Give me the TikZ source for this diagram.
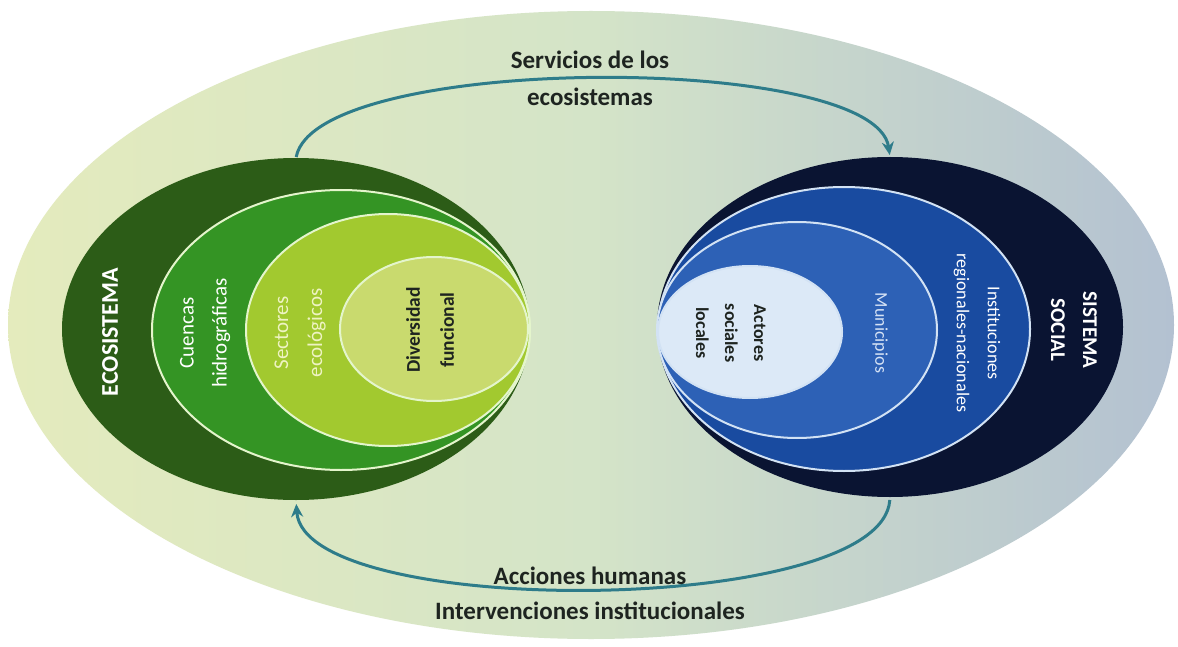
\documentclass[tikz,border=0pt]{standalone}
\usepackage{fontspec}
\setmainfont{Carlito}
\usetikzlibrary{shapes.geometric,arrows.meta}
\definecolor{bgL}{HTML}{E4EBBD}
\definecolor{bgM}{HTML}{D4E4C8}
\definecolor{bgR}{HTML}{B3C1D1}
\definecolor{ecoA}{HTML}{2C5C17}
\definecolor{ecoB}{HTML}{349424}
\definecolor{ecoC}{HTML}{A2C92F}
\definecolor{ecoD}{HTML}{C9DA6E}
\definecolor{lineG}{HTML}{E4F5CC}
\definecolor{socA}{HTML}{0A1432}
\definecolor{socB}{HTML}{194BA0}
\definecolor{socC}{HTML}{2D61B6}
\definecolor{socD}{HTML}{DCE9F7}
\definecolor{lineB}{HTML}{D2E2F4}
\definecolor{arrowc}{HTML}{2E7C8A}
\definecolor{txtd}{HTML}{1E2420}
\definecolor{secT}{HTML}{EEF3C2}
\definecolor{munT}{HTML}{D5E2F5}
\begin{document}
\begin{tikzpicture}[x=1pt,y=-1pt,
  ell/.style={ellipse, inner sep=0pt, outer sep=0pt},
  ringG/.style={draw=lineG, line width=2pt},
  ringB/.style={draw=lineB, line width=2pt},
  lbl/.style={align=center, inner sep=0pt},
  arr/.style={draw=arrowc, line width=3pt, -{Stealth[length=13pt,width=12pt]}}]
\useasboundingbox (0,0) rectangle (1178,647);
\fill[white] (0,0) rectangle (1178,647);
% background
\node[ell, minimum width=1166pt, minimum height=628pt, left color=bgL, right color=bgR, middle color=bgM] (bg) at (591,325) {};
% ecosystem
\node[ell, fill=ecoA, minimum width=468pt, minimum height=342pt] (eco) at (296,329) {};
\node[ell, fill=ecoB, ringG, minimum width=378pt, minimum height=280pt] (cue) at (341,330) {};
\node[ell, fill=ecoC, ringG, minimum width=284pt, minimum height=232pt] (sec) at (388,330) {};
\node[ell, fill=ecoD, ringG, minimum width=188pt, minimum height=144pt] (div) at (434,329) {};
% social system
\node[ell, fill=socA, minimum width=466pt, minimum height=340pt] (soc) at (890,327) {};
\node[ell, fill=socB, ringB, minimum width=372pt, minimum height=284pt] (ins) at (844,329) {};
\node[ell, fill=socC, ringB, minimum width=280pt, minimum height=216pt] (mun) at (797,330) {};
\node[ell, fill=socD, ringB, minimum width=184pt, minimum height=132pt] (act) at (750,332) {};
% arrows
\draw[arr, shorten <=1pt, shorten >=2pt] (eco.north) .. controls +(20,-105) and +(-15,-105) .. (soc.north);
\draw[arr, shorten <=3pt, shorten >=4pt] (soc.south) .. controls +(-8,120) and +(8,120) .. (eco.south);
% labels
\node[lbl, rotate=90, text=white, font=\bfseries\fontsize{24}{28}\selectfont] (tEco) at (110,332) {ECOSISTEMA};
\node[lbl, rotate=90, text=white, font=\fontsize{21}{33}\selectfont] (tCue) at (205,333) {Cuencas\\hidrográficas};
\node[lbl, rotate=90, text=secT, font=\fontsize{21}{34}\selectfont] (tSec) at (300,333) {Sectores\\ecológicos};
\node[lbl, rotate=90, text=txtd, font=\bfseries\fontsize{19.5}{34}\selectfont] (tDiv) at (430,330) {Diversidad\\funcional};
\node[lbl, rotate=-90, text=white, font=\bfseries\fontsize{21}{32}\selectfont] (tSoc) at (1074,330) {SISTEMA\\SOCIAL};
\node[lbl, rotate=-90, text=white, font=\fontsize{18}{31}\selectfont] (tIns) at (977,333) {Instituciones\\regionales-nacionales};
\node[lbl, rotate=-90, text=munT, font=\fontsize{18}{30}\selectfont] (tMun) at (880,333) {Municipios};
\node[lbl, rotate=-90, text=txtd, font=\bfseries\fontsize{18}{29}\selectfont] (tAct) at (731,333) {Actores\\sociales\\locales};
\node[lbl, text=txtd, font=\bfseries\fontsize{25}{30}\selectfont] (s1) at (590,60) {Servicios de los};
\node[lbl, text=txtd, font=\bfseries\fontsize{25}{30}\selectfont] (s2) at (590,97) {ecosistemas};
\node[lbl, text=txtd, font=\bfseries\fontsize{25}{30}\selectfont] (a1) at (590,576) {Acciones humanas};
\node[lbl, text=txtd, font=\bfseries\fontsize{25}{30}\selectfont] (a2) at (590,611) {Intervenciones institucionales};
\end{tikzpicture}
\end{document}
